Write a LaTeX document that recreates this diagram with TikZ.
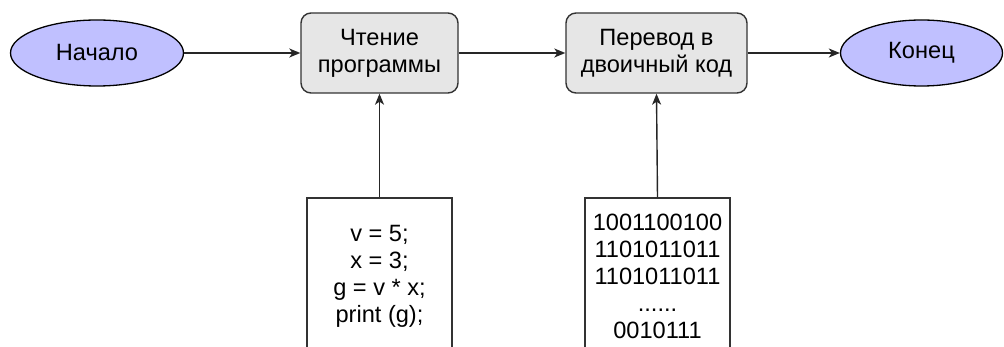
\documentclass[tikz,border=0pt]{standalone}
\usepackage{fontspec}
\setmainfont{Liberation Sans}
\usetikzlibrary{shapes.geometric,arrows.meta}
\definecolor{ellfill}{HTML}{C0C0FF}
\definecolor{boxfill}{HTML}{E6E6E6}
\definecolor{edge}{HTML}{333333}
\begin{document}
\begin{tikzpicture}[x=1pt,y=-1pt,
  every node/.style={font=\fontsize{23.6}{27}\selectfont, inner sep=0pt, align=center, text=black},
  oval/.style={ellipse, draw=black, fill=ellfill, line width=1.3pt},
  procbox/.style={rectangle, rounded corners=10pt, draw=edge, fill=boxfill, line width=1.4pt},
  databox/.style={rectangle, draw=edge, fill=white, line width=1.4pt},
  conn/.style={draw=black!85, line width=1.4pt, -{Stealth[length=11pt,width=9pt,inset=3pt]}}]
\useasboundingbox (0,0) rectangle (1004,347);
\clip (0,0) rectangle (1004,347);
\node[oval, minimum width=173pt, minimum height=66pt] (start) at (97,53) {Начало};
\node[procbox, minimum width=157pt, minimum height=80pt] (read) at (379.5,53) {Чтение\\программы};
\node[procbox, minimum width=181pt, minimum height=80pt] (conv) at (656.5,53) {Перевод в\\двоичный код};
\node[oval, minimum width=162pt, minimum height=66pt] (end) at (921.5,53) {Конец};
\node[databox, minimum width=145pt, minimum height=156pt] (code) at (379.5,276) {v = 5;\\x = 3;\\g = v * x;\\print (g);};
\node[databox, minimum width=145pt, minimum height=156pt] (bin) at (657.5,276) {1001100100\\1101011011\\1101011011\\......\\0010111};
\draw[conn] (start) -- (read);
\draw[conn] (read) -- (conv);
\draw[conn] (conv) -- (end);
\draw[conn] (code.north) -- (read.south);
\draw[conn] (bin.north) -- (conv.south);
\end{tikzpicture}
\end{document}
